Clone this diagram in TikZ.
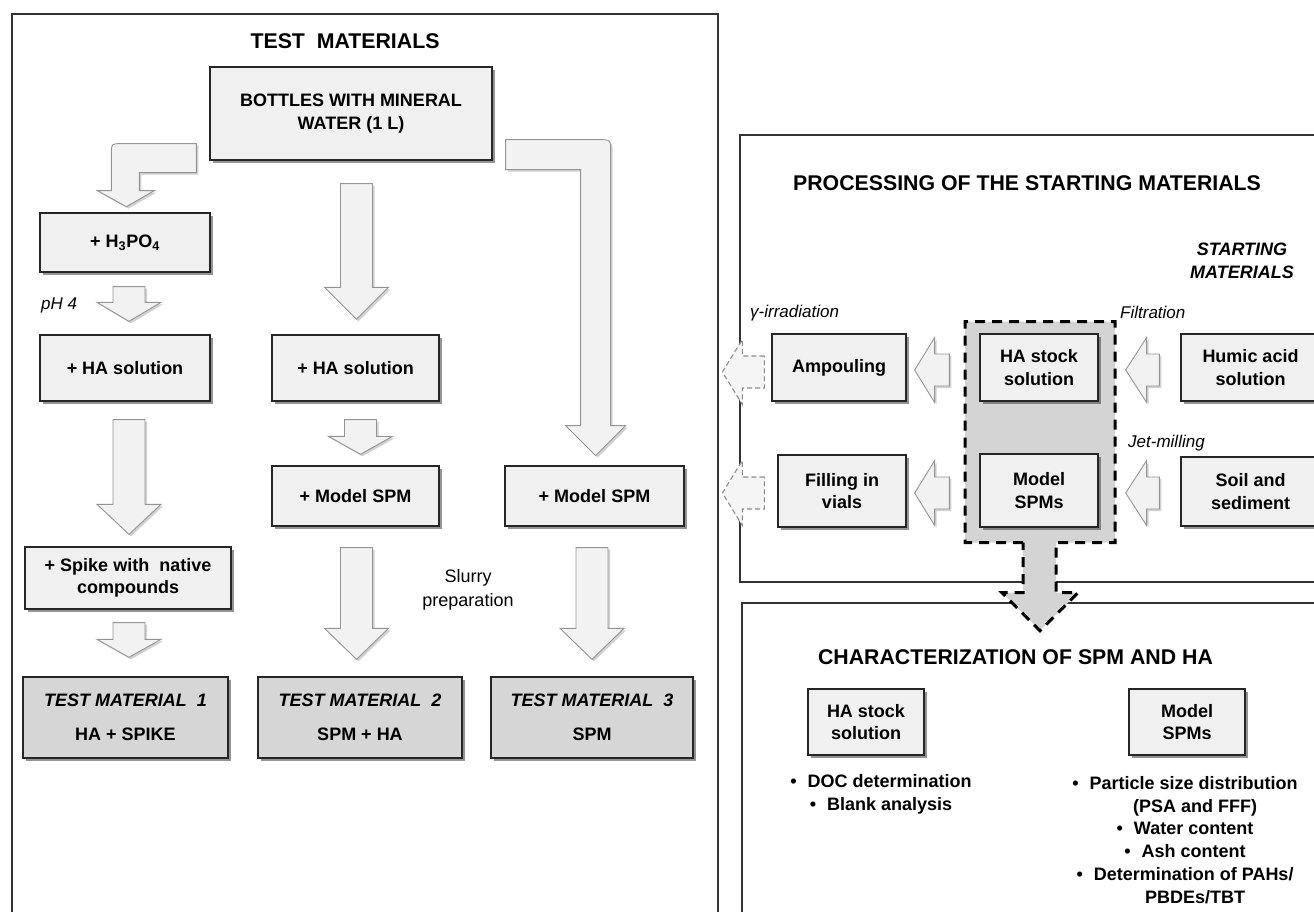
\documentclass[tikz,border=0pt]{standalone}
\usepackage{fontspec}
\setmainfont{Liberation Sans}
\usetikzlibrary{calc,positioning,shadows}
\pgfdeclarelayer{background}
\pgfsetlayers{background,main}

\tikzset{
  box/.style={draw=black!85, line width=1.3pt, fill=black!6, align=center, inner sep=0pt,
    font=\bfseries\fontsize{18}{22.5}\selectfont,
    drop shadow={shadow xshift=3pt, shadow yshift=-3pt, fill=black!70, opacity=.6}},
  tmbox/.style={box, fill=black!16},
  boxsize/.style 2 args={minimum width=#1pt, minimum height=#2pt},
  panel/.style={draw=black!80, line width=1.2pt},
  heading/.style={font=\bfseries\fontsize{21.3}{25}\selectfont, inner sep=0pt},
  note/.style={font=\itshape\fontsize{17}{21}\selectfont, inner sep=0pt, anchor=west},
  list/.style={font=\bfseries\fontsize{18}{22.8}\selectfont, align=center, inner sep=0pt},
  blockarrow/.style={draw=black!42, line width=.9pt, fill=black!5,
    drop shadow={shadow xshift=2pt, shadow yshift=-2pt, fill=black, opacity=.18}},
  ghostarrow/.style={draw=black!45, line width=1.1pt, dash pattern=on 5pt off 3pt, fill=black!4},
  region/.style={draw=black, line width=3pt, dash pattern=on 10pt off 7pt, fill=black!17}
}

\newcommand{\blockdown}[4][blockarrow]{%
  \path[#1] let \p1=#2, \p2=#3 in
    (\x1-16pt,\y1) -- (\x1+16pt,\y1) -- (\x1+16pt,\y2+#4pt) -- (\x1+32pt,\y2+#4pt)
    -- (\x1,\y2) -- (\x1-32pt,\y2+#4pt) -- (\x1-16pt,\y2+#4pt) -- cycle;}
\newcommand{\blockleft}[4][blockarrow]{%
  \path[#1] let \p1=#2, \p2=#3 in
    (\x1,\y1+16pt) -- (\x2+#4pt,\y1+16pt) -- (\x2+#4pt,\y1+32.5pt) -- (\x2,\y1)
    -- (\x2+#4pt,\y1-32.5pt) -- (\x2+#4pt,\y1-16pt) -- (\x1,\y1-16pt) -- cycle;}

\begin{document}
\begin{tikzpicture}[x=1pt, y=-1pt, node distance=10pt, on grid]
\useasboundingbox (0,0) rectangle (1314,912);

\node[heading] (t_test) at (345,41) {TEST\ \ MATERIALS};
\node[box, boxsize={282}{93}] (bottles) at (351,113.5) {BOTTLES WITH MINERAL\\WATER (1 L)};
\node[box, boxsize={170}{59}] (h3po4) at (125,242.5) {+ H\textsubscript{3}PO\textsubscript{4}};
\node[box, boxsize={170}{66}] (ha_1) [below=125.5pt of h3po4] {+ HA solution};
\node[box, boxsize={206}{62}] (spike) at (128,578) {+ Spike with\ \ native\\compounds};
\node[tmbox, boxsize={205}{81}] (tm_1) at (125.5,717.5) {\textit{TEST MATERIAL\ \ 1}\\[11.5pt]HA + SPIKE};
\node[box, boxsize={167}{66}] (ha_2) at (355.5,368) {+ HA solution};
\node[box, boxsize={167}{60}] (spm_2) [below=128pt of ha_2] {+ Model SPM};
\node[tmbox, boxsize={204}{81}] (tm_2) at (360,717.5) {\textit{TEST MATERIAL\ \ 2}\\[11.5pt]SPM + HA};
\node[box, boxsize={179}{60}] (spm_3) at (594.5,496) {+ Model SPM};
\node[tmbox, boxsize={202}{81}] (tm_3) at (592,717.5) {\textit{TEST MATERIAL\ \ 3}\\[11.5pt]SPM};
\node[note] (ph) at (41,305) {pH 4};
\node[font=\fontsize{18}{24}\selectfont, align=center, inner sep=0pt] (slurry) at (468,590) {Slurry\\preparation};

\node[heading] (t_proc) at (1027,183) {PROCESSING OF THE STARTING MATERIALS};
\node[font=\bfseries\itshape\fontsize{18}{23}\selectfont, align=center, inner sep=0pt] (start) at (1242,261) {STARTING\\MATERIALS};
\node[box, boxsize={118}{67}] (stock) at (1039,367.5) {HA stock\\solution};
\node[box, boxsize={118}{73}] (spms) [below=123pt of stock] {Model\\SPMs};
\node[box, boxsize={134}{67}] (ampoule) at (839,367.5) {Ampouling};
\node[box, boxsize={128}{72}] (vials) at (842,491) {Filling in\\vials};
\node[box, boxsize={139}{67}] (humic) at (1250.5,367.5) {Humic acid\\solution};
\node[box, boxsize={139}{69}] (soil) at (1250.5,491.5) {Soil and\\sediment};
\node[note] (gamma) at (750,313) {γ-irradiation};
\node[note] (filt) at (1120,312) {Filtration};
\node[note] (jet) at (1128,443) {Jet-milling};

\node[heading] (t_char) at (1015.5,657) {CHARACTERIZATION OF SPM AND HA};
\node[box, boxsize={116}{66}] (stock_c) at (866,722) {HA stock\\solution};
\node[box, boxsize={116}{66}] (spms_c) at (1187,722) {Model\\SPMs};
\node[list] (l_ha) at (881,794.5) {\textbullet\hspace{11pt}DOC determination\\\textbullet\hspace{11pt}Blank analysis};
\node[list] (l_spm) at (1185,840) {\textbullet\hspace{11pt}Particle size distribution\\\hspace*{20pt}(PSA and FFF)\\
  \textbullet\hspace{11pt}Water content\\\textbullet\hspace{11pt}Ash content\\
  \textbullet\hspace{11pt}Determination of PAHs/\\\hspace*{20pt}PBDEs/TBT};

\path[blockarrow, shift={(bottles.south west)}]
  (-13,-17) -- (-88,-17) .. controls (-98,-17) .. (-98,-7) -- (-98,30) -- (-112,30)
  -- (-83,46) -- (-55,30) -- (-70,30) -- (-70,12) -- (-13,12) -- cycle;
\path[blockarrow, shift={(bottles.south east)}]
  (13,-21) -- (106,-21) .. controls (118,-21) .. (118,-9) -- (118,265) -- (133,265)
  -- (103,295) -- (73,265) -- (88,265) -- (88,9) -- (13,9) -- cycle;
\blockdown{($(h3po4.south)+(4,14)$)}{($(ha_1.north)+(4,-13)$)}{19}
\blockdown{($(ha_1.south)+(4,18)$)}{($(spike.north)+(0,-12)$)}{30}
\blockdown{($(spike.south)+(1,13)$)}{($(tm_1.north)+(0,-19)$)}{18}
\blockdown{($(bottles.south)+(5.5,23)$)}{($(ha_2.north)+(0,-15)$)}{32}
\blockdown{($(ha_2.south)+(5,18)$)}{($(spm_2.north)+(0,-11)$)}{18}
\blockdown{($(spm_2.south)+(1,21)$)}{($(tm_2.north)+(0,-17)$)}{31}
\blockdown{($(spm_3.south)+(-2.5,21)$)}{($(tm_3.north)+(0,-17)$)}{31}

\blockleft{($(stock.west)+(-30,2.5)$)}{($(ampoule.east)+(8,0)$)}{20}
\blockleft{($(spms.west)+(-30,2.5)$)}{($(vials.east)+(8,0)$)}{20}
\blockleft{($(humic.west)+(-21,2.5)$)}{($(stock.east)+(27,0)$)}{21}
\blockleft{($(soil.west)+(-21,1.5)$)}{($(spms.east)+(27,0)$)}{21}
\blockleft[ghostarrow]{($(ampoule.west)+(-7,4.5)$)}{($(ampoule.west)+(-49,0)$)}{20}
\blockleft[ghostarrow]{($(vials.west)+(-13,2)$)}{($(vials.west)+(-55,0)$)}{20}

\begin{pgfonlayer}{background}
\draw[panel] (12,14) rectangle (718,930);
\draw[panel] (742,603) rectangle (1330,930);
\draw[panel] (740,135) rectangle (1330,582);
\path[region, shift={(spms.south)}] (-16,15) -- (-74,15) -- (-74,-206) -- (76,-206) -- (76,15)
  -- (17,15) -- (17,65) -- (39,65) -- (1,103) -- (-37,65) -- (-16,65) -- cycle;
\end{pgfonlayer}
\end{tikzpicture}
\end{document}
